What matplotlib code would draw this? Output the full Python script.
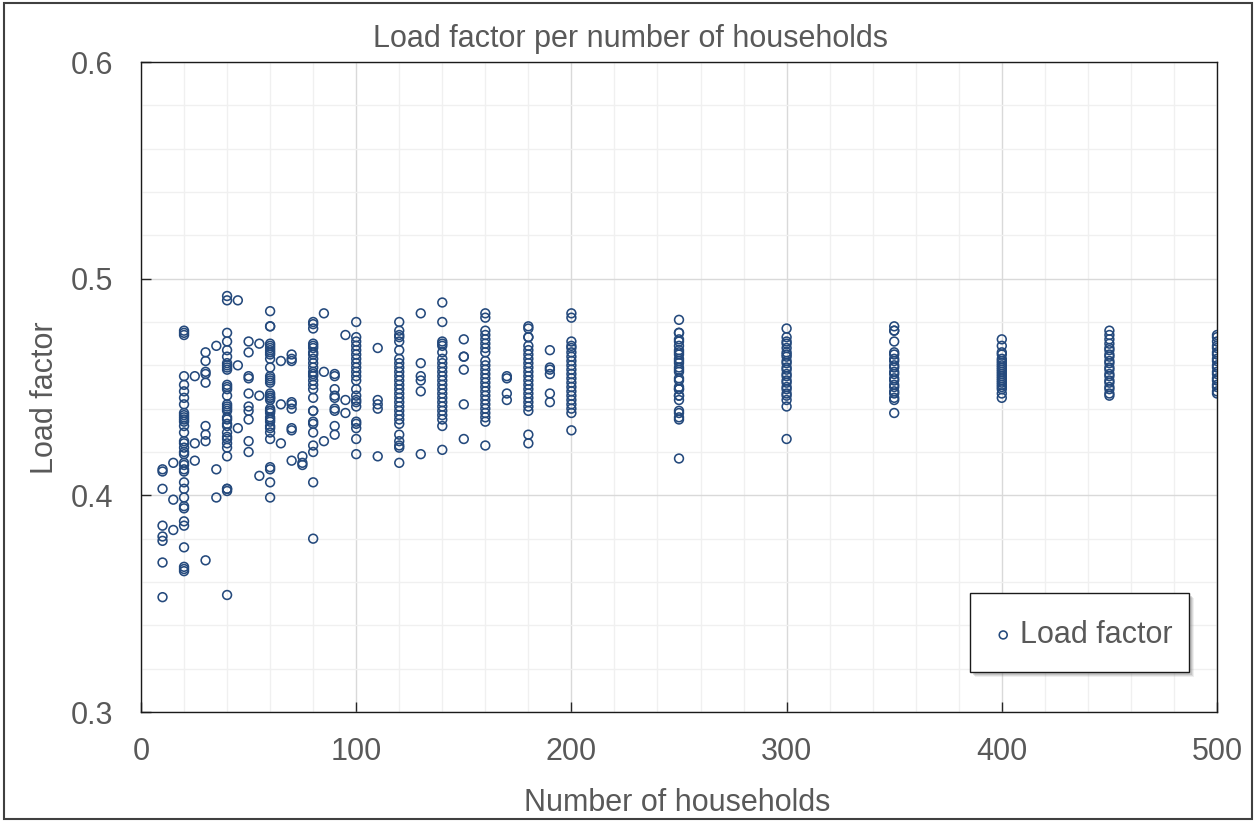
import matplotlib
matplotlib.use('Agg')
import matplotlib.pyplot as plt
from matplotlib.patches import Rectangle
from matplotlib.ticker import MultipleLocator

plt.rcParams['font.family'] = ['Liberation Sans', 'DejaVu Sans']

# households per group (one column of points per value)
households = [10, 15, 20, 25, 30, 35, 40, 45, 50, 55, 60, 65, 70, 75, 80, 85, 90, 95,
              100, 110, 120, 130, 140, 150, 160, 170, 180, 190, 200,
              250, 300, 350, 400, 450, 500]

# load factor values, one list per household count
load_factor = [
    [0.412, 0.411, 0.403, 0.386, 0.381, 0.379, 0.369, 0.353],
    [0.415, 0.398, 0.384],
    [0.476, 0.475, 0.474, 0.455, 0.451, 0.448, 0.445, 0.442, 0.438, 0.437, 0.436, 0.435,
     0.434, 0.432, 0.429, 0.425, 0.424, 0.422, 0.420, 0.419, 0.415, 0.414, 0.412, 0.411,
     0.406, 0.403, 0.399, 0.395, 0.394, 0.388, 0.386, 0.376, 0.367, 0.366, 0.365],
    [0.455, 0.424, 0.416],
    [0.466, 0.462, 0.457, 0.456, 0.452, 0.432, 0.428, 0.425, 0.370],
    [0.469, 0.412, 0.399],
    [0.492, 0.490, 0.475, 0.471, 0.467, 0.464, 0.461, 0.460, 0.459, 0.458, 0.451, 0.450,
     0.449, 0.446, 0.442, 0.441, 0.440, 0.439, 0.436, 0.435, 0.433, 0.432, 0.429, 0.427,
     0.426, 0.424, 0.422, 0.418, 0.403, 0.403, 0.402, 0.354],
    [0.490, 0.460, 0.431],
    [0.471, 0.466, 0.455, 0.454, 0.447, 0.441, 0.439, 0.435, 0.425, 0.420],
    [0.470, 0.446, 0.409],
    [0.485, 0.478, 0.478, 0.470, 0.469, 0.468, 0.467, 0.466, 0.465, 0.463, 0.459, 0.455,
     0.454, 0.453, 0.452, 0.447, 0.446, 0.445, 0.445, 0.444, 0.440, 0.439, 0.439, 0.438,
     0.436, 0.435, 0.434, 0.432, 0.431, 0.429, 0.426, 0.413, 0.412, 0.406, 0.399],
    [0.462, 0.442, 0.424],
    [0.465, 0.463, 0.462, 0.443, 0.442, 0.440, 0.431, 0.430, 0.416],
    [0.418, 0.415, 0.414],
    [0.480, 0.479, 0.477, 0.470, 0.469, 0.468, 0.466, 0.465, 0.463, 0.461, 0.459, 0.457,
     0.456, 0.455, 0.453, 0.451, 0.449, 0.445, 0.439, 0.439, 0.434, 0.433, 0.429, 0.423,
     0.420, 0.406, 0.380],
    [0.484, 0.457, 0.425],
    [0.456, 0.455, 0.449, 0.446, 0.445, 0.440, 0.439, 0.432, 0.428],
    [0.474, 0.444, 0.438],
    [0.480, 0.473, 0.471, 0.469, 0.467, 0.465, 0.463, 0.461, 0.459, 0.457, 0.455, 0.453,
     0.449, 0.446, 0.444, 0.443, 0.441, 0.434, 0.433, 0.431, 0.426, 0.419],
    [0.468, 0.444, 0.442, 0.440, 0.418],
    [0.480, 0.476, 0.474, 0.473, 0.471, 0.467, 0.463, 0.461, 0.459, 0.457, 0.455, 0.453,
     0.451, 0.449, 0.447, 0.445, 0.443, 0.441, 0.439, 0.437, 0.435, 0.433, 0.428, 0.425,
     0.423, 0.422, 0.415],
    [0.484, 0.461, 0.455, 0.453, 0.448, 0.419],
    [0.489, 0.480, 0.471, 0.470, 0.469, 0.466, 0.463, 0.461, 0.459, 0.457, 0.455, 0.453,
     0.451, 0.449, 0.447, 0.445, 0.443, 0.441, 0.439, 0.437, 0.435, 0.432, 0.421],
    [0.472, 0.464, 0.464, 0.458, 0.442, 0.426],
    [0.484, 0.482, 0.476, 0.474, 0.472, 0.470, 0.468, 0.466, 0.462, 0.460, 0.458, 0.456,
     0.454, 0.452, 0.450, 0.448, 0.446, 0.444, 0.442, 0.440, 0.438, 0.436, 0.434, 0.423],
    [0.455, 0.454, 0.447, 0.444],
    [0.478, 0.477, 0.473, 0.473, 0.469, 0.467, 0.465, 0.463, 0.461, 0.459, 0.457, 0.455,
     0.453, 0.451, 0.449, 0.447, 0.445, 0.443, 0.441, 0.439, 0.428, 0.424],
    [0.467, 0.459, 0.458, 0.456, 0.447, 0.443],
    [0.484, 0.482, 0.471, 0.469, 0.468, 0.466, 0.464, 0.462, 0.460, 0.458, 0.456, 0.454,
     0.452, 0.450, 0.448, 0.446, 0.444, 0.442, 0.440, 0.438, 0.430],
    [0.481, 0.475, 0.475, 0.472, 0.471, 0.469, 0.467, 0.466, 0.465, 0.463, 0.462, 0.461,
     0.459, 0.458, 0.457, 0.454, 0.453, 0.450, 0.449, 0.449, 0.446, 0.446, 0.444, 0.439,
     0.438, 0.436, 0.435, 0.417],
    [0.477, 0.473, 0.471, 0.470, 0.468, 0.466, 0.465, 0.464, 0.462, 0.461, 0.459, 0.458,
     0.456, 0.455, 0.453, 0.452, 0.450, 0.449, 0.447, 0.446, 0.444, 0.441, 0.426],
    [0.478, 0.476, 0.476, 0.471, 0.466, 0.465, 0.463, 0.462, 0.460, 0.459, 0.457, 0.456,
     0.454, 0.453, 0.451, 0.450, 0.448, 0.447, 0.445, 0.444, 0.438],
    [0.472, 0.469, 0.466, 0.465, 0.463, 0.462, 0.461, 0.460, 0.459, 0.458, 0.457, 0.456,
     0.455, 0.454, 0.453, 0.452, 0.451, 0.450, 0.449, 0.447, 0.445],
    [0.476, 0.474, 0.472, 0.470, 0.468, 0.467, 0.465, 0.464, 0.462, 0.461, 0.459, 0.458,
     0.456, 0.455, 0.453, 0.452, 0.450, 0.449, 0.447, 0.446],
    [0.474, 0.473, 0.471, 0.469, 0.468, 0.466, 0.465, 0.463, 0.462, 0.460, 0.459, 0.457,
     0.456, 0.454, 0.453, 0.451, 0.450, 0.448, 0.447],
]

# flatten into x / y
xs, ys = [], []
for h, vals in zip(households, load_factor):
    for v in vals:
        xs.append(h)
        ys.append(v)

text_color = '#595959'
marker_color = '#24497c'
fs = 22

fig = plt.figure(figsize=(12.55, 8.22), dpi=100)
ax = fig.add_axes([141 / 1255, 110 / 822, 1076 / 1255, 650 / 822])

ax.scatter(xs, ys, s=40, facecolors='none', edgecolors=marker_color,
           linewidths=1.15, label='Load factor', zorder=3)

ax.set_xlim(0, 500)
ax.set_ylim(0.3, 0.6)
ax.xaxis.set_major_locator(MultipleLocator(100))
ax.xaxis.set_minor_locator(MultipleLocator(20))
ax.yaxis.set_minor_locator(MultipleLocator(0.02))
ax.set_yticks([0.3, 0.4, 0.5, 0.6])
ax.set_yticklabels(['0.3', '0.4', '0.5', '0.6'])

ax.grid(which='major', color='#d9d9d9', linewidth=1.0, zorder=0)
ax.grid(which='minor', color='#f0f0f0', linewidth=1.0, zorder=0)
ax.set_axisbelow(True)

ax.tick_params(which='major', direction='in', length=7, width=1, color='#262626',
               labelsize=fs, labelcolor=text_color)
ax.tick_params(axis='x', which='major', pad=18)
ax.tick_params(axis='y', which='major', pad=20)
ax.tick_params(which='minor', length=0)
for sp in ax.spines.values():
    sp.set_color('#1a1a1a')
    sp.set_linewidth(1.0)

fig.text(0.502, 1 - 39 / 822, 'Load factor per number of households', ha='center',
         va='center', fontsize=fs, color=text_color)
fig.text(677 / 1255, 1 - 803 / 822, 'Number of households', ha='center', va='center',
         fontsize=fs, color=text_color)
fig.text(45 / 1255, 1 - 398 / 822, 'Load factor', ha='center', va='center',
         rotation=90, fontsize=fs, color=text_color)

# legend box drawn by hand (Excel style: thin frame + soft shadow)
lx0, ly0, lw, lh = 0.7704, 0.0615, 0.2036, 0.1216
for i, a in enumerate([0.12, 0.18, 0.25]):
    d = (5 - i) / 1076
    ax.add_patch(Rectangle((lx0 + d, ly0 - d * 1.655), lw, lh, transform=ax.transAxes,
                           facecolor='#7f7f7f', edgecolor='none', alpha=a, zorder=4))
ax.add_patch(Rectangle((lx0, ly0), lw, lh, transform=ax.transAxes, facecolor='white',
                       edgecolor='#1a1a1a', linewidth=1.0, zorder=5))

leg = ax.legend(loc='center left', bbox_to_anchor=(0.7928, 0.1185), fontsize=fs,
                frameon=False, borderpad=0, borderaxespad=0,
                handlelength=0.6, handletextpad=0.25, markerscale=0.9)
leg.set_zorder(6)
for t in leg.get_texts():
    t.set_color(text_color)

# outer chart border
fig.patches.append(Rectangle((4 / 1255, 3 / 822), 1248 / 1255, 816 / 822,
                             transform=fig.transFigure, fill=False,
                             edgecolor='#404040', linewidth=1.5))

plt.savefig('out.png', dpi=100)
